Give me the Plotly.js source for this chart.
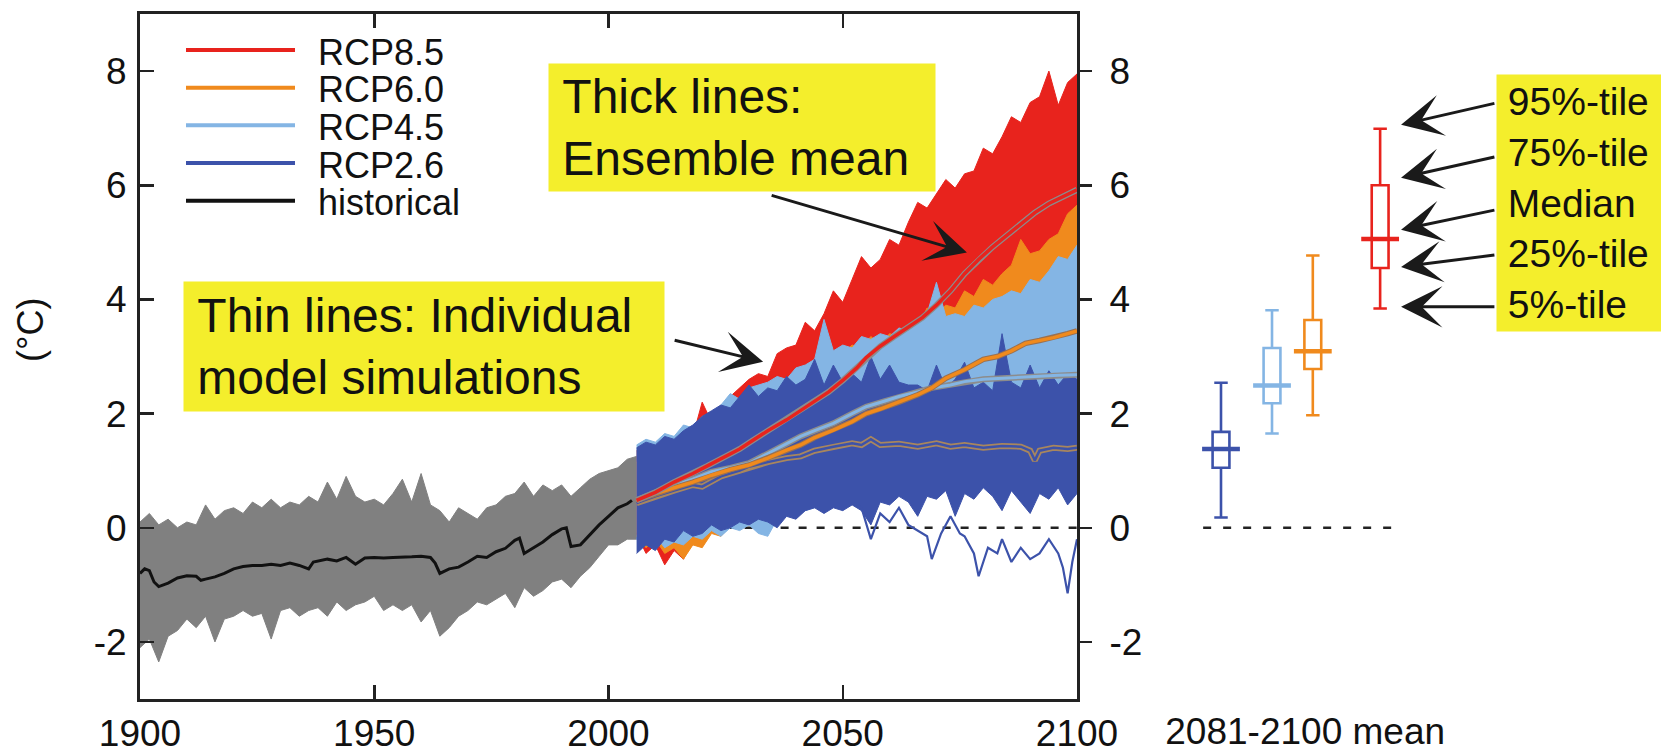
<!DOCTYPE html>
<html><head><meta charset="utf-8">
<script src="https://cdn.plot.ly/plotly-3.0.1.min.js"></script>
<style>html,body{margin:0;padding:0;background:#fff;}#chart{width:1661px;height:755px;}</style>
</head><body><div id="chart"></div>
<script>
// ---------- historical spread (grey) ----------
const histYears = [1900,1902,1904,1906,1908,1910,1912,1914,1916,1918,1920,1922,1924,1926,1928,1930,1932,1934,1936,1938,1940,1942,1944,1946,1948,1950,1952,1954,1956,1958,1960,1962,1964,1966,1968,1970,1972,1974,1976,1978,1980,1982,1984,1986,1988,1990,1992,1994,1996,1998,2000,2002,2004,2006];
const histUpper = [0.10,0.25,0.05,0.15,0.00,0.10,0.05,0.40,0.15,0.30,0.35,0.25,0.45,0.35,0.50,0.35,0.45,0.40,0.55,0.45,0.80,0.50,0.90,0.55,0.45,0.50,0.40,0.60,0.85,0.45,0.95,0.40,0.30,0.10,0.35,0.25,0.15,0.35,0.40,0.55,0.60,0.80,0.55,0.75,0.65,0.75,0.55,0.70,0.85,0.95,1.00,1.05,1.20,1.25];
const histLower = [-2.10,-1.95,-2.35,-1.90,-1.80,-1.60,-1.75,-1.55,-2.00,-1.60,-1.55,-1.45,-1.55,-1.50,-1.95,-1.45,-1.40,-1.55,-1.45,-1.40,-1.55,-1.30,-1.45,-1.35,-1.30,-1.20,-1.45,-1.35,-1.45,-1.35,-1.65,-1.45,-1.90,-1.75,-1.55,-1.45,-1.30,-1.35,-1.25,-1.15,-1.40,-1.05,-1.20,-1.10,-0.95,-0.90,-1.05,-0.85,-0.70,-0.50,-0.30,-0.30,-0.20,-0.20];

// ---------- historical ensemble mean ----------
const histMeanYears = [1900,1901,1902,1903,1904,1906,1908,1910,1912,1913,1914,1916,1918,1920,1922,1924,1926,1928,1930,1932,1934,1936,1937,1940,1942,1944,1946,1948,1950,1952,1954,1956,1958,1960,1962,1963,1964,1966,1968,1970,1972,1974,1976,1978,1980,1981,1982,1984,1986,1988,1990,1991,1992,1994,1996,1998,2000,2002,2004,2005];
const histMean = [-0.80,-0.72,-0.75,-0.95,-1.03,-0.97,-0.88,-0.84,-0.85,-0.92,-0.90,-0.86,-0.80,-0.72,-0.68,-0.66,-0.66,-0.64,-0.66,-0.62,-0.66,-0.72,-0.60,-0.55,-0.58,-0.52,-0.64,-0.53,-0.52,-0.53,-0.52,-0.52,-0.51,-0.50,-0.52,-0.62,-0.80,-0.72,-0.69,-0.60,-0.50,-0.52,-0.42,-0.36,-0.22,-0.18,-0.45,-0.35,-0.25,-0.12,-0.02,0.00,-0.33,-0.30,-0.12,0.05,0.20,0.35,0.42,0.48];

// ---------- projection spreads ----------
const projYears = [2006,2008,2010,2012,2014,2016,2018,2020,2022,2024,2026,2028,2030,2032,2034,2036,2038,2040,2042,2044,2046,2048,2050,2052,2054,2056,2058,2060,2062,2064,2066,2068,2070,2072,2074,2076,2078,2080,2082,2084,2086,2088,2090,2092,2094,2096,2098,2100];
const rcp85Upper = [1.35,1.45,1.30,1.55,1.45,1.75,1.60,2.20,1.85,2.05,2.30,2.45,2.60,2.70,2.65,3.05,3.15,3.20,3.60,3.45,3.75,4.15,3.95,4.35,4.75,4.55,4.70,5.05,4.95,5.35,5.70,5.60,5.85,6.10,5.95,6.20,6.25,6.65,6.55,6.85,7.20,7.10,7.45,7.55,8.00,7.40,7.80,7.95];
const rcp85Lower = [-0.10,-0.45,-0.30,-0.65,-0.40,-0.55,-0.20,-0.05,0.10,0.25,0.35,0.45,0.60,0.70,0.85,0.95,1.10,1.20,1.35,1.45,1.60,1.75,1.85,2.00,2.10,2.25,2.35,2.50,2.60,2.75,2.85,3.00,3.10,3.20,3.30,3.45,3.55,3.65,3.75,3.85,3.95,4.05,4.15,4.25,4.35,4.45,4.55,4.65];
const rcp60Upper = [1.15,1.25,1.20,1.40,1.35,1.75,1.50,1.60,1.70,1.85,1.80,2.00,2.05,2.20,2.25,2.35,2.50,2.55,2.70,2.75,2.90,3.00,3.05,3.20,3.15,3.35,3.20,3.40,3.35,3.55,3.50,3.85,3.75,3.90,3.85,4.15,4.05,4.35,4.25,4.45,4.60,5.05,4.80,4.85,5.05,5.15,5.50,5.65];
const rcp60Lower = [-0.15,-0.35,-0.20,-0.45,-0.35,-0.55,-0.30,-0.35,-0.10,-0.15,0.05,0.00,0.10,0.15,0.25,0.35,0.40,0.50,0.55,0.60,0.70,0.80,0.90,0.95,1.00,1.10,1.20,1.30,1.35,1.40,1.45,1.55,1.60,1.65,1.70,1.75,1.80,1.80,1.85,1.90,1.95,2.00,2.00,2.05,2.05,2.10,2.10,2.15];
const rcp45Upper = [1.45,1.55,1.50,1.65,1.60,1.80,1.75,1.95,2.00,2.15,2.35,2.25,2.45,2.50,2.55,2.65,2.60,2.80,2.85,2.95,3.65,3.10,3.20,3.15,3.35,3.30,3.40,3.35,3.50,3.45,3.60,3.75,4.30,3.70,3.75,3.70,3.90,3.85,4.00,4.05,4.15,4.10,4.35,4.30,4.50,4.75,4.70,4.95];
const rcp45Lower = [-0.20,-0.30,-0.15,-0.35,-0.25,-0.30,-0.15,-0.20,-0.05,-0.15,0.00,-0.05,0.05,-0.10,-0.15,0.15,0.20,0.25,0.30,0.35,0.40,0.45,0.50,0.55,0.55,0.60,0.65,0.70,0.75,0.75,0.80,0.85,0.85,0.90,0.95,0.95,1.00,1.00,1.05,1.05,1.10,1.10,1.10,1.15,1.15,1.20,1.20,1.20];
const rcp26Upper = [1.40,1.50,1.45,1.60,1.55,1.70,1.80,1.95,2.05,2.15,2.10,2.30,2.50,2.30,2.45,2.40,2.65,2.50,2.60,2.95,2.50,2.85,2.55,2.70,2.55,3.00,2.60,2.85,2.55,2.50,2.50,2.40,2.85,2.45,2.60,2.90,2.45,2.55,2.40,3.40,2.55,2.45,2.85,2.45,2.75,2.50,2.70,2.60];
const rcp26Lower = [-0.45,-0.30,-0.40,-0.20,-0.25,-0.05,-0.15,-0.10,0.05,-0.05,0.00,0.10,0.05,0.15,0.10,0.00,0.20,0.15,0.30,0.35,0.25,0.35,0.30,0.40,0.30,0.05,0.45,0.40,0.55,0.45,0.20,0.55,0.50,0.65,0.20,0.60,0.50,0.70,0.55,0.30,0.65,0.45,0.25,0.60,0.50,0.70,0.40,0.60];

// one cold RCP2.6 run that leaves the bundle
const rcp26RunYears = [2052,2054,2056,2058,2060,2062,2064,2065,2067,2068,2069,2071,2073,2075,2076,2078,2079,2081,2083,2084,2086,2088,2090,2092,2094,2096,2097,2098,2099,2100];
const rcp26Run = [0.45,0.35,-0.20,0.25,0.10,0.35,0.05,0.00,-0.10,-0.15,-0.55,-0.10,0.20,-0.10,-0.15,-0.45,-0.85,-0.35,-0.45,-0.20,-0.60,-0.35,-0.55,-0.45,-0.20,-0.45,-0.70,-1.15,-0.60,-0.20];

// ---------- ensemble means ----------
const rcp85MeanYears = [2006,2010,2014,2018,2021,2025,2028,2031,2034,2038,2041,2044,2047,2050,2053,2055,2058,2061,2064,2067,2070,2073,2076,2079,2082,2085,2088,2091,2094,2097,2100];
const rcp85Mean = [0.48,0.62,0.80,0.95,1.08,1.25,1.38,1.54,1.70,1.89,2.05,2.22,2.38,2.58,2.80,2.98,3.18,3.35,3.52,3.68,3.90,4.15,4.45,4.70,4.92,5.12,5.32,5.52,5.68,5.80,5.92];
const rcp60MeanYears = [2006,2010,2014,2018,2022,2026,2030,2034,2038,2041,2044,2048,2052,2055,2058,2062,2066,2069,2072,2076,2080,2083,2086,2089,2092,2095,2098,2100];
const rcp60Mean = [0.48,0.60,0.70,0.80,0.92,1.02,1.10,1.22,1.36,1.45,1.58,1.71,1.86,2.00,2.08,2.20,2.33,2.45,2.62,2.77,2.95,3.00,3.10,3.23,3.28,3.33,3.40,3.45];
const rcp45MeanYears = [2006,2010,2014,2018,2022,2026,2030,2034,2038,2041,2044,2048,2052,2055,2059,2062,2066,2069,2073,2076,2080,2084,2088,2092,2096,2100];
const rcp45Mean = [0.48,0.62,0.75,0.85,0.98,1.05,1.13,1.30,1.48,1.60,1.70,1.83,2.00,2.12,2.22,2.30,2.38,2.45,2.50,2.56,2.60,2.62,2.64,2.65,2.67,2.68];
const rcp26MeanYears = [2006,2010,2014,2018,2020,2024,2028,2030,2034,2038,2041,2044,2048,2052,2054,2056,2058,2062,2066,2070,2073,2076,2080,2084,2088,2090,2091,2092,2095,2098,2100];
const rcp26Mean = [0.43,0.55,0.65,0.75,0.72,0.90,1.00,1.07,1.15,1.22,1.25,1.35,1.42,1.48,1.45,1.55,1.45,1.47,1.42,1.48,1.42,1.45,1.40,1.43,1.42,1.35,1.18,1.35,1.40,1.38,1.40];

// ---------- 2081-2100 mean statistics ----------
const scenarios = ['RCP2.6','RCP4.5','RCP6.0','RCP8.5'];
const pct5  = [0.18,1.65,1.97,3.84];
const pct25 = [1.05,2.18,2.78,4.55];
const pctMedian = [1.38,2.49,3.09,5.06];
const pct75 = [1.68,3.15,3.64,6.00];
const pct95 = [2.54,3.81,4.77,6.99];

// ---------- labels ----------
const legendNames = ['RCP8.5','RCP6.0','RCP4.5','RCP2.6','historical'];
const pctLabels = ['95%-tile','75%-tile','Median','25%-tile','5%-tile'];
const xTickVals = [1900,1950,2000,2050,2100];
const yTickVals = [-2,0,2,4,6,8];
const yTickText = ['-2','0','2','4','6','8'];

// ---------- styling ----------
const C85='#e8231d', C60='#f08a1d', C45='#84b5e4', C26='#3c52aa', CH='#808080', YEL='#f4ee2c';
const scenColors = [C26, C45, C60, C85];
const legendColors = [C85, C60, C45, C26, '#111111'];
const FONT = 'Liberation Sans, Arial, Helvetica, sans-serif';
const boxPos = [1, 2, 2.8, 4.12];   // slot positions on the right-hand panel axis
const W = 1661, H = 755;
const px = v => v / W, py = v => 1 - v / H;

function band(xs, up, lo, color) {
  return {x: xs.concat(xs.slice().reverse()), y: up.concat(lo.slice().reverse()),
    mode:'lines', fill:'toself', fillcolor: color, line:{color: color, width: 1},
    hoverinfo:'skip', showlegend:false};
}
function meanLine(xs, ys, color, outline, wOut, wIn) {
  return [
    {x: xs, y: ys, mode:'lines', line:{color: outline, width: wOut}, hoverinfo:'skip', showlegend:false},
    {x: xs, y: ys, mode:'lines', line:{color: color, width: wIn}, hoverinfo:'skip', showlegend:false}
  ];
}

const traces = [];
traces.push({x:[projYears[0], projYears[projYears.length-1]], y:[0,0], mode:'lines',
  line:{color:'#222', width:2.5, dash:'8px,10px'}, hoverinfo:'skip', showlegend:false});
traces.push(band(histYears, histUpper, histLower, CH));
traces.push(band(projYears, rcp85Upper, rcp85Lower, C85));
traces.push(band(projYears, rcp60Upper, rcp60Lower, C60));
traces.push(band(projYears, rcp45Upper, rcp45Lower, C45));
traces.push(band(projYears, rcp26Upper, rcp26Lower, C26));
traces.push({x: rcp26RunYears, y: rcp26Run, mode:'lines', line:{color: C26, width: 2.2}, hoverinfo:'skip', showlegend:false});
traces.push({x: histMeanYears, y: histMean, mode:'lines', line:{color:'#111', width:3}, hoverinfo:'skip', showlegend:false});
traces.push(...meanLine(rcp26MeanYears, rcp26Mean, C26, '#a8865e', 6, 2.5));
traces.push(...meanLine(rcp45MeanYears, rcp45Mean, C45, '#8c8c8c', 6, 3));
traces.push(...meanLine(rcp60MeanYears, rcp60Mean, C60, '#9a7050', 5.5, 3.5));
traces.push(...meanLine(rcp85MeanYears, rcp85Mean, C85, '#8c8c8c', 6, 3.5));
// dummy (invisible) trace so the right-hand mirror y axis is drawn
traces.push({x:[2000], y:[0], yaxis:'y2', mode:'markers', marker:{opacity:0}, hoverinfo:'skip', showlegend:false});

// right panel
traces.push({x:[boxPos[0]-0.35, boxPos[3]+0.25], y:[0,0], xaxis:'x2', yaxis:'y', mode:'lines',
  line:{color:'#222', width:2.5, dash:'8px,12px'}, hoverinfo:'skip', showlegend:false});
scenarios.forEach((s, i) => {
  traces.push({type:'box', name:s, x:[boxPos[i]], q1:[pct25[i]], median:[pctMedian[i]], q3:[pct75[i]],
    lowerfence:[pct5[i]], upperfence:[pct95[i]], xaxis:'x2', yaxis:'y', width:0.33, whiskerwidth:0.8,
    boxpoints:false, fillcolor:'#ffffff', line:{color: scenColors[i], width:2.6}, hoverinfo:'skip', showlegend:false});
});
traces.push({x: boxPos, y: pctMedian, xaxis:'x2', yaxis:'y', mode:'markers',
  marker:{symbol:'line-ew', size:27, color: scenColors, line:{color: scenColors, width:4.5}}, hoverinfo:'skip', showlegend:false});

const tickFont = {family: FONT, size: 37, color:'#111'};
const layout = {
  width: W, height: H, margin:{l:0, r:0, t:0, b:0},
  paper_bgcolor:'#fff', plot_bgcolor:'rgba(0,0,0,0)', showlegend:false,
  xaxis:{domain:[px(140), px(1077)], range:[1900,2100], tickvals:xTickVals,
    ticks:'inside', ticklen:14, tickwidth:2.5, tickcolor:'#222', showline:true, linewidth:3, linecolor:'#222',
    mirror:'ticks', showgrid:false, zeroline:false, tickfont: tickFont, ticklabelstandoff: 0},
  yaxis:{domain:[1-699/H, 1-14/H], range:[-3,9], tickvals:yTickVals, ticktext:yTickText,
    ticks:'inside', ticklen:14, tickwidth:2.5, tickcolor:'#222', showline:true, linewidth:3, linecolor:'#222',
    mirror:true, showgrid:false, zeroline:false, tickfont: tickFont, ticklabelstandoff: 3},
  yaxis2:{overlaying:'y', side:'right', anchor:'x', range:[-3,9], tickvals:yTickVals, ticktext:yTickText,
    ticks:'outside', ticklen:14, tickwidth:2.5, tickcolor:'#222', showline:false, showgrid:false, zeroline:false,
    tickfont: tickFont, ticklabelstandoff: 10},
  xaxis2:{domain:[px(1077), 1], anchor:'y', range:[-1.8235, 9.627], tickvals:[2.65], ticktext:['2081-2100 mean'],
    ticks:'', showline:false, showgrid:false, zeroline:false, tickfont: tickFont, ticklabelstandoff: 7},
  shapes: [], annotations: []
};

// legend (drawn manually: long line samples)
const legendY = [50, 87.7, 125.3, 163, 200.7];
legendNames.forEach((n, i) => {
  layout.shapes.push({type:'line', xref:'paper', yref:'paper', x0:px(186), x1:px(295), y0:py(legendY[i]), y1:py(legendY[i]),
    line:{color: legendColors[i], width:4}});
  layout.annotations.push({xref:'paper', yref:'paper', x:px(316), y:py(legendY[i]+2), xanchor:'left', yanchor:'middle',
    text:n, showarrow:false, font:{family:FONT, size:36, color:'#111'}});
});

// y title
layout.annotations.push({xref:'paper', yref:'paper', x:px(30), y:py(330), xanchor:'center', yanchor:'middle',
  text:'(°C)', textangle:-90, showarrow:false, font:{family:FONT, size:36, color:'#111'}});

// yellow call-out boxes
layout.annotations.push({xref:'paper', yref:'paper', x:px(548), y:py(63), xanchor:'left', yanchor:'top',
  width:386, height:127, borderpad:0, bgcolor:YEL, align:'left', showarrow:false,
  text:'&nbsp;Thick lines:<br>&nbsp;Ensemble mean', font:{family:FONT, size:48, color:'#111'}});
layout.annotations.push({xref:'paper', yref:'paper', x:px(183), y:py(281), xanchor:'left', yanchor:'top',
  width:480, height:129, borderpad:0, bgcolor:YEL, align:'left', showarrow:false,
  text:'&nbsp;Thin lines: Individual<br>&nbsp;model simulations', font:{family:FONT, size:48, color:'#111'}});
layout.annotations.push({xref:'paper', yref:'paper', x:px(1496), y:py(74), xanchor:'left', yanchor:'top',
  width:200, height:256, borderpad:0, bgcolor:YEL, align:'left', showarrow:false,
  text: pctLabels.map(t => '&nbsp;' + t).join('<br>'), font:{family:FONT, size:39, color:'#111'}});

// arrows
const arrowStyle = {showarrow:true, text:'', arrowhead:3, arrowsize:2.3, arrowwidth:3, arrowcolor:'#1a1a1a', standoff:0};
layout.annotations.push(Object.assign({xref:'x', yref:'y', x:2076.5, y:4.82, axref:'x', ayref:'y', ax:2034.5, ay:5.83}, arrowStyle));
layout.annotations.push(Object.assign({xref:'x', yref:'y', x:2033.0, y:2.91, axref:'x', ayref:'y', ax:2013.8, ay:3.29}, arrowStyle));
const headY = [7.06, 6.13, 5.22, 4.57, 3.87];
const tailY = [7.44, 6.50, 5.57, 4.78, 3.87];
headY.forEach((hy, i) => {
  layout.annotations.push(Object.assign({xref:'x2', yref:'y', x:4.53, y:hy, axref:'x2', ayref:'y', ax:6.39, ay:tailY[i]}, arrowStyle));
});

Plotly.newPlot('chart', traces, layout, {displayModeBar:false, staticPlot:true});
</script></body></html>
